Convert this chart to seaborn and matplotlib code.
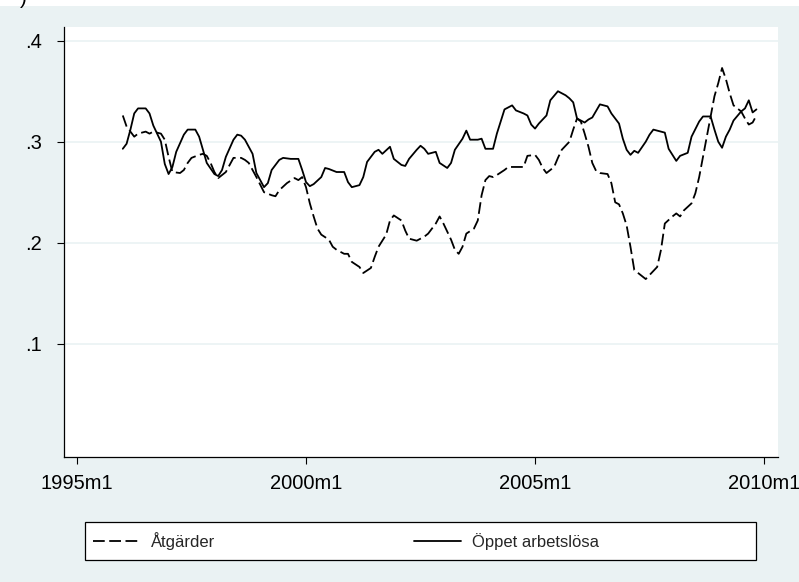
import numpy as np
import pandas as pd
from matplotlib import pyplot as plt
import seaborn as sns

# ========================= data (months since 1995m1) ========================= #
atg_month = [12, 13, 14, 15, 16, 18, 19, 20, 22, 23, 24, 25, 27, 28, 29, 30, 32, 33, 34, 35,
             36, 37, 39, 40, 41, 43, 44, 45, 47, 49, 51, 52, 53, 55, 57, 58, 59, 60, 61, 62,
             63, 64, 66, 67, 68, 70, 71, 72, 74, 75, 77, 78, 79, 81, 82, 83, 85, 86, 87, 89,
             91, 92, 94, 95, 96, 98, 99, 100, 101, 102, 104, 105, 106, 107, 108, 109, 110, 112, 113, 114,
             116, 117, 118, 120, 121, 122, 123, 125, 126, 127, 129, 130, 131, 132, 133, 134, 135, 136, 137, 139,
             140, 141, 142, 143, 144, 145, 146, 148, 149, 150, 152, 153, 154, 156, 157, 158, 159, 161, 162, 163,
             164, 165, 166, 167, 168, 169, 170, 171, 172, 174, 175, 176, 177, 178]
atg_value = [.326, .315, .310, .305, .308, .310, .308, .310, .308, .302, .285, .270, .269, .272, .279, .284, .287, .288, .286, .279,
             .270, .264, .270, .277, .284, .284, .282, .279, .265, .250, .247, .246, .252, .259, .264, .262, .265, .255, .239, .226,
             .214, .208, .203, .196, .193, .189, .189, .181, .176, .170, .175, .186, .196, .208, .222, .227, .222, .212, .204, .202,
             .206, .209, .219, .226, .219, .203, .193, .189, .196, .209, .214, .222, .247, .262, .266, .265, .267, .272, .275, .275,
             .275, .275, .286, .287, .282, .274, .269, .275, .284, .292, .300, .312, .323, .320, .308, .295, .279, .271, .269, .268,
             .259, .240, .238, .229, .217, .196, .173, .167, .164, .168, .176, .193, .219, .226, .229, .226, .232, .239, .249, .265,
             .285, .305, .325, .345, .358, .373, .362, .348, .336, .330, .323, .317, .319, .326]

opp_month = [12, 13, 14, 15, 16, 18, 19, 20, 22, 23, 24, 25, 26, 28, 29, 31, 32, 33, 34, 36,
             37, 38, 39, 41, 42, 43, 44, 46, 47, 49, 50, 51, 53, 54, 56, 58, 59, 60, 61, 62,
             64, 65, 66, 68, 70, 71, 72, 74, 75, 76, 78, 79, 80, 82, 83, 85, 86, 87, 89, 90,
             91, 92, 94, 95, 97, 98, 99, 101, 102, 103, 105, 106, 107, 109, 110, 111, 112, 114, 115, 117,
             118, 119, 120, 121, 123, 124, 126, 127, 128, 129, 130, 131, 133, 134, 135, 137, 139, 140, 142, 143,
             144, 145, 146, 147, 149, 150, 151, 153, 154, 155, 157, 158, 160, 161, 163, 164, 166, 167, 168, 169,
             170, 171, 172, 174, 175, 176, 177, 178]
opp_value = [.293, .298, .312, .328, .333, .333, .328, .316, .300, .278, .268, .275, .290, .307, .312, .312, .305, .292, .279, .268,
             .266, .272, .285, .302, .307, .306, .302, .288, .269, .255, .259, .272, .282, .284, .283, .283, .272, .260, .256, .258,
             .265, .274, .273, .270, .270, .260, .255, .257, .265, .280, .290, .292, .288, .295, .283, .277, .276, .283, .292, .296,
             .293, .288, .290, .279, .274, .279, .292, .303, .311, .302, .302, .303, .293, .293, .308, .320, .332, .336, .331, .328,
             .326, .317, .313, .318, .326, .341, .350, .348, .346, .343, .339, .323, .319, .322, .324, .337, .335, .328, .318, .303,
             .292, .287, .291, .289, .300, .307, .312, .310, .309, .293, .281, .286, .289, .305, .320, .325, .325, .312, .300, .294,
             .305, .312, .321, .330, .333, .341, .329, .332]

tick_months = [0, 60, 120, 180]
tick_labels = ['1995m1', '2000m1', '2005m1', '2010m1']
y_ticks = [.1, .2, .3, .4]
y_labels = ['.1', '.2', '.3', '.4']

bg = '#EAF2F3'

sns.set_style('white')
plt.rcParams['font.family'] = ['Liberation Sans', 'DejaVu Sans']

fig = plt.figure(figsize=(7.99, 5.82), dpi=100, facecolor=bg)
# white strip on top with the cut-off bracket
fig.patches.append(plt.Rectangle((0, 1 - 6 / 582), 1, 6 / 582, transform=fig.transFigure,
                                 facecolor='white', edgecolor='none', zorder=0))
fig.text(23 / 799, 1 + 2 / 582, ')', fontsize=15, ha='center', va='center', color='black')

ax = fig.add_axes([64 / 799, 1 - 457 / 582, 714 / 799, 430 / 582])
ax.set_facecolor('white')

dash = (0, (6.5, 2.5))
sns.lineplot(x=atg_month, y=atg_value, ax=ax, color='black', lw=1.3, linestyle=dash, label='Åtgärder')
sns.lineplot(x=opp_month, y=opp_value, ax=ax, color='black', lw=1.3, label='Öppet arbetslösa')

ax.set_xlim(-3.4, 183.65)
ax.set_ylim(-0.0122, 0.4136)
ax.set_xticks(tick_months)
ax.set_xticklabels(tick_labels)
ax.set_yticks(y_ticks)
ax.set_yticklabels(y_labels)
ax.set_xlabel('')
ax.set_ylabel('')

for y in y_ticks:
    ax.axhline(y, color=bg, lw=1.2, zorder=0)

for s in ['top', 'right']:
    ax.spines[s].set_visible(False)
for s in ['left', 'bottom']:
    ax.spines[s].set_color('black')
    ax.spines[s].set_linewidth(0.9)

ax.tick_params(axis='both', direction='out', length=5, width=0.8, color='black', labelsize=14.5,
               labelcolor='black', left=True, bottom=True)
ax.tick_params(axis='y', pad=11)
ax.tick_params(axis='x', pad=7)

# legend: white box drawn by hand, entries placed inside
fig.patches.append(plt.Rectangle((85 / 799, 1 - 560 / 582), 671 / 799, 38 / 582,
                                 transform=fig.transFigure, facecolor='white',
                                 edgecolor='black', linewidth=0.9, zorder=1))
handles, labels = ax.get_legend_handles_labels()
ax.get_legend().remove()
leg = fig.legend(handles, labels, loc='center left', ncol=2,
                 bbox_to_anchor=(93 / 799, 1 - 541 / 582),
                 fontsize=12, frameon=False, handlelength=2.8,
                 handletextpad=0.7, columnspacing=11.9, borderpad=0, borderaxespad=0)

fig.savefig('out.png', dpi=100, facecolor=bg)
